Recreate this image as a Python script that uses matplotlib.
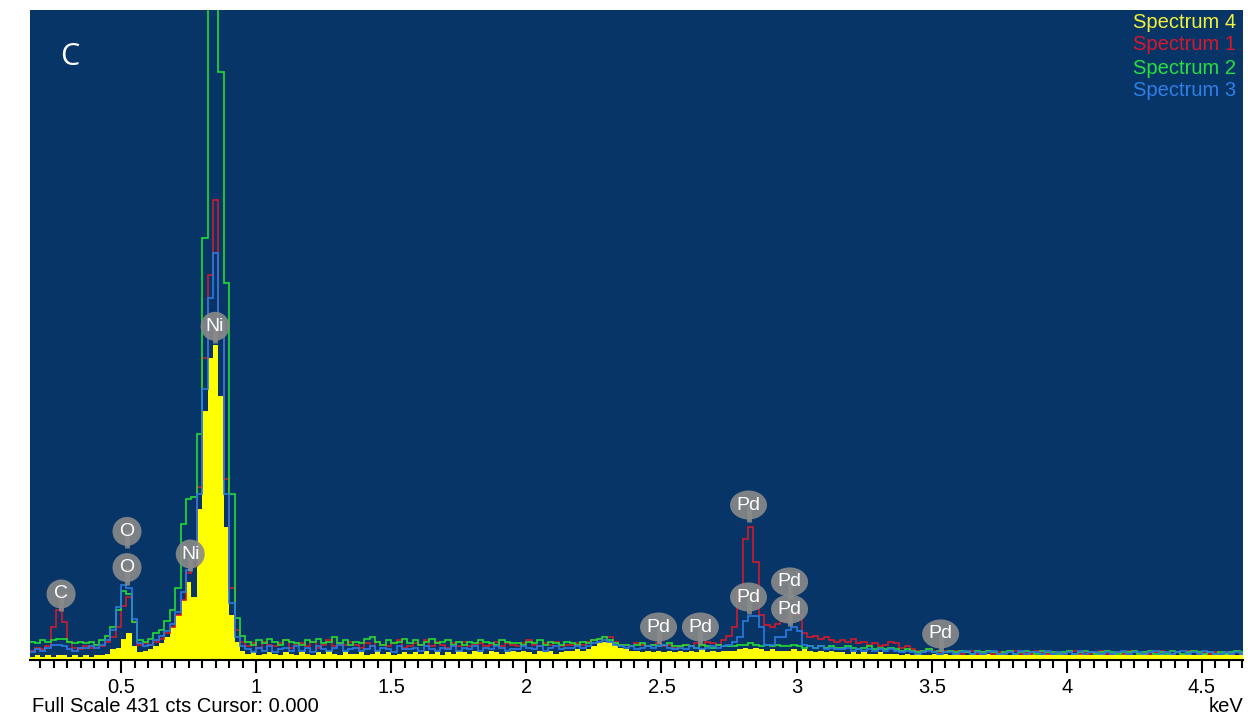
import numpy as np
import matplotlib
matplotlib.use('Agg')
import matplotlib.pyplot as plt
import matplotlib.transforms as mtrans
from matplotlib.patches import Ellipse
from matplotlib.ticker import MultipleLocator

## channel edges (keV), 0.02 keV wide
kev_start = 0.16
kev_step = 0.02

# Spectrum 4 (yellow, filled)
spec4 = [2, 3, 2, 3, 2, 3, 3, 2, 3, 2,
         3, 2, 3, 3, 4, 7, 8, 14, 18, 9,
         5, 6, 7, 9, 11, 15, 22, 30, 40, 52,
         42, 100, 165, 200, 209, 175, 88, 30, 12, 6,
         4, 5, 3, 4, 5, 4, 3, 5, 4, 3,
         5, 4, 3, 5, 4, 6, 4, 3, 5, 4,
         4, 5, 3, 4, 6, 4, 5, 3, 4, 5,
         4, 5, 4, 6, 4, 5, 3, 5, 4, 6,
         5, 4, 6, 5, 4, 6, 5, 4, 5, 6,
         5, 6, 5, 4, 6, 5, 6, 4, 5, 6,
         6, 7, 6, 7, 9, 11, 12, 12, 10, 8,
         7, 6, 6, 5, 6, 5, 6, 5, 6, 5,
         6, 5, 6, 5, 7, 5, 6, 5, 6, 6,
         6, 7, 8, 7, 8, 7, 6, 7, 6, 6,
         6, 7, 6, 7, 6, 5, 6, 5, 6, 5,
         5, 4, 5, 4, 5, 4, 4, 5, 4, 4,
         4, 3, 4, 3, 4, 3, 3, 4, 3, 4,
         3, 4, 3, 3, 4, 3, 3, 4, 3, 3,
         3, 3, 4, 3, 3, 4, 3, 3, 4, 3,
         3, 4, 3, 3, 4, 3, 3, 3, 4, 3,
         3, 3, 4, 3, 3, 3, 4, 3, 3, 4,
         3, 4, 3, 3, 4, 3, 3, 4, 3, 3,
         3, 4, 3, 3, 4]

# Spectrum 1 (red)
spec1 = [6, 8, 7, 9, 22, 33, 25, 12, 8, 7,
         9, 8, 10, 9, 12, 15, 22, 36, 42, 25,
         10, 11, 10, 12, 14, 18, 22, 30, 40, 58,
         62, 115, 200, 255, 305, 215, 120, 48, 20, 12,
         9, 11, 8, 12, 10, 9, 11, 13, 8, 10,
         11, 9, 12, 8, 10, 13, 9, 11, 10, 12,
         10, 8, 11, 9, 12, 10, 9, 11, 13, 8,
         9, 11, 10, 13, 9, 12, 10, 8, 11, 9,
         12, 9, 10, 11, 9, 10, 12, 9, 11, 10,
         9, 11, 13, 10, 9, 11, 10, 12, 9, 10,
         10, 11, 10, 12, 13, 14, 13, 15, 12, 10,
         10, 9, 11, 10, 9, 10, 11, 9, 10, 8,
         9, 10, 9, 11, 10, 12, 11, 10, 13, 16,
         22, 45, 80, 88, 65, 30, 23, 22, 24, 26,
         27, 31, 30, 18, 15, 16, 14, 15, 13, 12,
         13, 12, 14, 11, 12, 10, 11, 9, 10, 12,
         11, 8, 9, 7, 6, 5, 7, 6, 5, 6,
         5, 6, 4, 5, 6, 4, 5, 6, 4, 5,
         4, 5, 6, 4, 5, 4, 6, 5, 4, 5,
         5, 4, 5, 6, 4, 5, 4, 5, 6, 4,
         4, 5, 4, 6, 5, 4, 5, 4, 5, 6,
         5, 4, 5, 4, 6, 5, 4, 5, 4, 5,
         4, 5, 4, 5, 4]

# Spectrum 2 (green)
spec2 = [12, 11, 13, 12, 13, 14, 14, 12, 11, 12,
         11, 12, 10, 13, 16, 22, 33, 46, 44, 25,
         13, 12, 14, 18, 20, 26, 33, 48, 90, 107,
         108, 150, 280, 600, 600, 390, 250, 110, 28, 16,
         12, 10, 13, 11, 14, 12, 10, 13, 12, 11,
         10, 13, 12, 14, 11, 12, 15, 11, 13, 10,
         12, 11, 14, 15, 12, 10, 13, 11, 12, 14,
         11, 13, 10, 12, 14, 11, 12, 13, 10, 12,
         10, 12, 11, 13, 12, 11, 10, 13, 12, 11,
         11, 10, 12, 11, 13, 10, 12, 11, 10, 12,
         11, 10, 12, 11, 13, 14, 15, 13, 11, 10,
         10, 9, 10, 11, 9, 10, 9, 10, 11, 9,
         9, 10, 9, 8, 10, 9, 8, 10, 9, 9,
         9, 10, 10, 11, 10, 9, 10, 9, 10, 9,
         9, 10, 9, 8, 9, 8, 9, 8, 9, 8,
         8, 9, 8, 7, 8, 9, 7, 8, 7, 8,
         7, 6, 7, 6, 5, 6, 7, 5, 6, 5,
         6, 5, 6, 5, 4, 6, 5, 6, 5, 4,
         5, 6, 4, 5, 6, 5, 4, 6, 5, 5,
         4, 5, 6, 4, 5, 6, 5, 4, 5, 6,
         5, 4, 5, 5, 6, 4, 5, 6, 4, 5,
         4, 6, 5, 4, 5, 6, 5, 4, 5, 4,
         5, 4, 5, 6, 5]

# Spectrum 3 (blue)
spec3 = [5, 7, 6, 8, 10, 10, 9, 7, 6, 8,
         8, 9, 8, 10, 13, 20, 35, 50, 48, 27,
         11, 9, 10, 13, 16, 19, 24, 32, 45, 60,
         66, 110, 180, 240, 270, 225, 110, 38, 15, 9,
         7, 5, 8, 6, 9, 5, 7, 8, 6, 9,
         6, 8, 5, 9, 7, 6, 8, 10, 6, 7,
         8, 6, 7, 9, 6, 8, 7, 5, 9, 7,
         7, 8, 6, 9, 7, 6, 8, 7, 9, 6,
         8, 7, 9, 6, 8, 7, 9, 8, 6, 7,
         7, 9, 8, 7, 9, 6, 8, 9, 7, 8,
         8, 9, 8, 9, 11, 12, 13, 12, 10, 9,
         8, 9, 7, 8, 9, 8, 9, 10, 8, 7,
         8, 7, 9, 8, 7, 8, 9, 8, 9, 10,
         12, 15, 26, 29, 29, 22, 10, 10, 15, 15,
         20, 22, 19, 10, 9, 8, 9, 7, 8, 7,
         7, 8, 6, 7, 6, 7, 6, 7, 6, 7,
         6, 5, 6, 5, 4, 5, 6, 5, 4, 5,
         5, 4, 5, 6, 4, 5, 4, 5, 6, 4,
         4, 5, 4, 6, 4, 5, 5, 4, 6, 4,
         5, 4, 5, 4, 6, 4, 5, 5, 4, 5,
         4, 5, 6, 4, 5, 5, 4, 5, 6, 4,
         5, 4, 5, 6, 4, 5, 4, 6, 5, 4,
         4, 5, 4, 5, 4]

## element labels (text, keV, counts at stem tip)
label_text = ['C', 'O', 'O', 'Ni', 'Ni', 'Pd', 'Pd', 'Pd', 'Pd', 'Pd', 'Pd', 'Pd']
label_kev = [0.278, 0.522, 0.522, 0.848, 0.756, 2.822, 2.822, 2.974, 2.974, 2.489, 2.644, 3.533]
label_cts = [32.5, 74, 50, 210, 59, 91.5, 30.5, 40.5, 22.5, 10.6, 10.6, 6]

legend_names = ['Spectrum 4', 'Spectrum 1', 'Spectrum 2', 'Spectrum 3']
legend_colors = ['#f2f23a', '#d8182a', '#26e040', '#2f7fe6']

full_scale = 431

edges = np.round(kev_start + kev_step * np.arange(len(spec4) + 1), 3)

fig = plt.figure(figsize=(12.48, 7.21), dpi=100)
ax = fig.add_axes([30/1248, 61/721, 1213/1248, 650/721])
ax.set_facecolor('#083567')

ax.stairs(spec4, edges, fill=True, color='#ffff00', baseline=0)
ax.stairs(spec1, edges, color='#d01a2c', lw=1.2, baseline=None)
ax.stairs(spec2, edges, color='#22dd33', lw=1.2, baseline=None)
ax.stairs(spec3, edges, color='#2a7be0', lw=1.2, baseline=None)

ax.set_xlim(0.163, 4.652)
ax.set_ylim(0, full_scale)

##labels: grey ellipse with a short stem, sized in inches
gray = '#8a8a8a'
for t, xk, yc in zip(label_text, label_kev, label_cts):
    tr = fig.dpi_scale_trans + mtrans.ScaledTranslation(xk, yc, ax.transData)
    w = 0.37 if len(t) > 1 and t == 'Pd' else 0.29
    h = 0.29 if t == 'Pd' else 0.29
    ax.plot([0, 0], [0, 0.17], color=gray, lw=3.5, transform=tr, clip_on=False,
            solid_capstyle='butt', alpha=0.9)
    ax.add_patch(Ellipse((0, 0.17), w, h, transform=tr, fc=gray, ec='none',
                         alpha=0.9, clip_on=False))
    ax.text(0, 0.17, t, transform=tr, ha='center', va='center', color='white',
            fontsize=14, family='Liberation Sans')

##legend text
for i in range(4):
    ax.text(0.9945, (638 - i*23)/650, legend_names[i], transform=ax.transAxes,
            ha='right', va='center', color=legend_colors[i], fontsize=14.5,
            family='Liberation Sans')

ax.text(40/1213, 603/650, 'C', transform=ax.transAxes, color='white', fontsize=22,
        family='Open Sans', ha='center', va='center')

##axis
for s in ['top', 'left', 'right']:
    ax.spines[s].set_visible(False)
ax.spines['bottom'].set_color('black')
ax.spines['bottom'].set_linewidth(1.5)
ax.xaxis.set_major_locator(MultipleLocator(0.5))
ax.xaxis.set_minor_locator(MultipleLocator(0.05))
ax.xaxis.set_major_formatter(lambda v, p: ('%g' % v))
ax.tick_params(axis='x', which='major', length=9, width=1.5, color='black',
               labelsize=14.5, pad=4)
ax.tick_params(axis='x', which='minor', length=6, width=1.5, color='black')
ax.set_yticks([])
for lab in ax.get_xticklabels():
    lab.set_family('Liberation Sans')

fig.text(32/1248, 1 - 707/721, 'Full Scale %d cts Cursor: 0.000' % full_scale,
         ha='left', va='center', fontsize=14.5, family='Liberation Sans')
fig.text(1243/1248, 1 - 707/721, 'keV', ha='right', va='center', fontsize=14.5,
         family='Liberation Sans')

plt.savefig('out.png', dpi=100)
